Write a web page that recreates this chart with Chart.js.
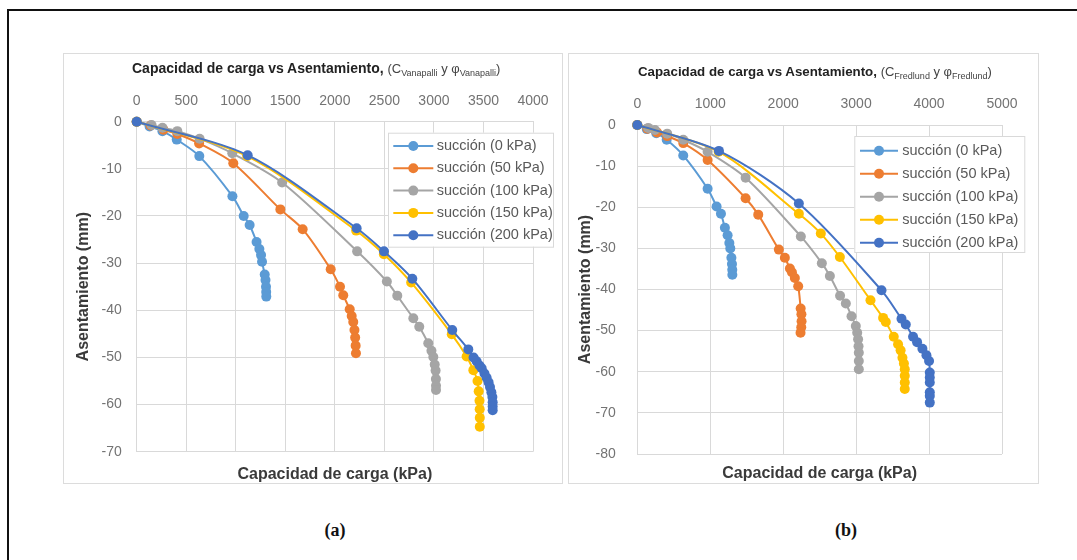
<!DOCTYPE html>
<html>
<head>
<meta charset="utf-8">
<script src="https://cdn.jsdelivr.net/npm/chart.js@4.4.1/dist/chart.umd.min.js"></script>
<style>
body { margin: 0; background: #fff; width: 1077px; height: 560px; overflow: hidden; position: relative; font-family: "Liberation Sans", Arial, sans-serif; }
.frame { position: absolute; left: 7px; top: 9px; width: 1200px; height: 700px; border-left: 2px solid #111; border-top: 2px solid #111; }
.panel { position: absolute; border: 1px solid #dcdcdc; box-sizing: border-box; }
canvas { position: absolute; }
.ttl { position: absolute; white-space: nowrap; color: #222; line-height: 20px; }
.ttl span { font-weight: normal; color: #444; font-size: 13px; }
.ttl sub { font-size: 9px; vertical-align: -3px; line-height: 0; }
.cap { position: absolute; width: 60px; text-align: center; font-family: "Liberation Serif", "DejaVu Serif", serif; font-weight: bold; font-size: 18px; line-height: 22px; color: #111; }
</style>
</head>
<body>
<div class="frame"></div>

<div class="panel" style="left:63px;top:53px;width:500px;height:431px"></div>
<div class="panel" style="left:568px;top:53px;width:471px;height:431px"></div>

<canvas id="chartA" width="500" height="431" style="left:63px;top:53px"></canvas>
<canvas id="chartB" width="471" height="431" style="left:568px;top:53px"></canvas>

<div class="ttl" style="left:132px;top:58px;font-size:14px"><b>Capacidad de carga vs Asentamiento,</b> <span>(C<sub>Vanapalli</sub> y φ<sub>Vanapalli</sub>)</span></div>
<div class="ttl" style="left:638px;top:62px;font-size:13.3px"><b>Capacidad de carga vs Asentamiento,</b> <span>(C<sub>Fredlund</sub> y φ<sub>Fredlund</sub>)</span></div>

<div class="cap" style="left:305px;top:519px">(a)</div>
<div class="cap" style="left:816px;top:519px">(b)</div>

<script>
// series names
const seriesLabels = ['succión (0 kPa)', 'succión (50 kPa)', 'succión (100 kPa)', 'succión (150 kPa)', 'succión (200 kPa)'];
const seriesColors = ['#5b9bd5', '#ed7d31', '#a5a5a5', '#ffc000', '#4472c4'];

// (a) Vanapalli : [capacidad kPa, asentamiento mm]
const van0 = [[0,0],[130,-1.0],[260,-2.0],[404,-3.8],[632,-7.3],[966,-15.8],[1080,-20.0],[1140,-21.9],[1210,-25.5],[1238,-27.0],[1255,-28.3],[1265,-29.7],[1292,-32.4],[1300,-33.6],[1305,-35.0],[1307,-36.1],[1308,-37.1]];
const van50 = [[0,0],[140,-0.8],[270,-1.7],[410,-2.6],[630,-4.6],[975,-8.8],[1450,-18.6],[1675,-22.8],[1958,-31.3],[2052,-35.0],[2085,-36.8],[2150,-39.8],[2170,-41.2],[2186,-42.5],[2198,-44.2],[2205,-45.8],[2210,-47.5],[2213,-49.1]];
const van100 = [[0,0],[150,-0.7],[260,-1.3],[410,-2.0],[635,-3.6],[965,-6.7],[1468,-12.9],[2225,-27.5],[2525,-33.9],[2630,-36.9],[2792,-41.7],[2852,-43.5],[2943,-47.0],[2975,-48.6],[2994,-49.9],[3008,-51.5],[3017,-52.8],[3020,-54.6],[3021,-56.0],[3021,-56.9]];
const van150 = [[0,0],[1115,-7.3],[2215,-23.1],[2495,-28.1],[2770,-34.1],[3180,-45.1],[3330,-49.8],[3398,-52.7],[3440,-55.0],[3452,-57.2],[3460,-59.2],[3462,-61.0],[3463,-62.8],[3463,-64.7]];
const van200 = [[0,0],[1120,-7.1],[2220,-22.6],[2496,-27.5],[2782,-33.3],[3185,-44.2],[3347,-48.3],[3400,-50.0],[3431,-50.8],[3460,-51.7],[3482,-52.3],[3510,-53.4],[3532,-54.3],[3552,-55.3],[3566,-56.3],[3580,-57.4],[3590,-58.4],[3593,-59.5],[3593,-60.4],[3593,-61.2]];

// (b) Fredlund
const fre0 = [[0,0],[130,-1.0],[260,-2.0],[403,-3.6],[630,-7.4],[964,-15.5],[1087,-19.8],[1147,-21.6],[1201,-25.0],[1238,-26.8],[1262,-28.7],[1275,-30.0],[1290,-32.3],[1298,-33.8],[1302,-35.2],[1303,-36.4]];
const fre50 = [[0,0],[140,-0.9],[270,-1.8],[410,-2.7],[630,-4.4],[964,-8.5],[1485,-17.8],[1658,-21.8],[1941,-30.3],[2023,-32.3],[2092,-34.9],[2120,-35.8],[2160,-37.2],[2206,-39.2],[2240,-44.6],[2250,-46.0],[2252,-47.7],[2248,-49.2],[2238,-50.5]];
const fre100 = [[0,0],[150,-0.7],[242,-1.2],[410,-2.1],[630,-3.6],[964,-6.5],[1485,-12.8],[2242,-27.1],[2530,-33.6],[2640,-36.7],[2780,-41.5],[2859,-43.4],[2937,-46.5],[2996,-48.9],[3015,-50.5],[3027,-52.1],[3033,-53.8],[3037,-55.4],[3037,-57.4],[3037,-59.4]];
const fre150 = [[0,0],[1115,-6.5],[2215,-21.6],[2516,-26.4],[2777,-32.1],[3197,-42.6],[3370,-46.9],[3407,-47.9],[3516,-51.5],[3575,-53.3],[3610,-54.8],[3635,-56.6],[3655,-58.0],[3667,-59.4],[3667,-61.0],[3667,-62.6],[3667,-64.2]];
const fre200 = [[0,0],[1119,-6.3],[2215,-19.1],[3348,-40.2],[3622,-47.1],[3681,-48.5],[3781,-51.5],[3836,-52.8],[3909,-54.4],[3964,-56.0],[4000,-57.4],[4010,-60.2],[4010,-61.4],[4010,-62.6],[4010,-65.0],[4010,-65.9],[4010,-67.5]];

const xTitle = 'Capacidad de carga (kPa)';
const yTitle = 'Asentamiento (mm)';

const FONT = '"Liberation Sans", Arial, sans-serif';

// legend drawn as a boxed overlay inside the plot, like the excel one
const boxLegend = {
    id: 'boxLegend',
    afterDatasetsDraw(chart, args, o) {
        const ctx = chart.ctx;
        ctx.save();
        ctx.fillStyle = '#fff';
        ctx.fillRect(o.x, o.y, o.w, o.h);
        ctx.strokeStyle = '#d9d9d9';
        ctx.lineWidth = 1;
        ctx.strokeRect(o.x + 0.5, o.y + 0.5, o.w, o.h);
        ctx.font = '14.5px ' + FONT;
        ctx.textBaseline = 'middle';
        chart.data.datasets.forEach((ds, i) => {
            const y = o.y + o.first + i * o.step;
            const x0 = o.x + o.lineOff;
            ctx.strokeStyle = ds.borderColor;
            ctx.lineWidth = 2;
            ctx.beginPath();
            ctx.moveTo(x0, y);
            ctx.lineTo(x0 + o.lineLen, y);
            ctx.stroke();
            ctx.fillStyle = ds.borderColor;
            ctx.beginPath();
            ctx.arc(x0 + o.lineLen / 2, y, 5, 0, Math.PI * 2);
            ctx.fill();
            ctx.fillStyle = '#595959';
            ctx.fillText(ds.label, o.x + o.textOff, y);
        });
        ctx.restore();
    }
};

function makeChart(id, series, lay) {
    const datasets = series.map((pts, i) => ({
        label: seriesLabels[i],
        data: pts.map(p => ({x: p[0], y: p[1]})),
        xAxisID: 'x',
        yAxisID: 'y',
        showLine: true,
        borderColor: seriesColors[i],
        backgroundColor: seriesColors[i],
        borderWidth: 2,
        pointRadius: 5,
        pointHoverRadius: 5,
        pointBorderWidth: 0,
        tension: 0.3,
        clip: false,
        order: series.length - i
    }));

    new Chart(document.getElementById(id), {
        type: 'scatter',
        data: {datasets: datasets},
        plugins: [boxLegend],
        options: {
            responsive: false,
            animation: false,
            layout: {padding: {top: lay.padTop, right: lay.padRight, bottom: 0, left: 0}},
            plugins: {
                legend: {display: false},
                tooltip: {enabled: false},
                boxLegend: lay.legend
            },
            scales: {
                x: {
                    type: 'linear',
                    position: 'top',
                    min: 0,
                    max: lay.xMax,
                    afterFit: (s) => { s.height = 30; },
                    grid: {color: '#d9d9d9', drawTicks: false},
                    border: {color: '#d9d9d9'},
                    ticks: {
                        stepSize: lay.xStep,
                        padding: lay.xTickPad,
                        color: '#737373',
                        font: {family: FONT, size: 14},
                        callback: (v) => String(v)
                    }
                },
                x2: {
                    type: 'linear',
                    position: 'bottom',
                    min: 0,
                    max: 1,
                    afterFit: (s) => { s.height = lay.x2H; },
                    grid: {display: false},
                    border: {display: false},
                    ticks: {display: false},
                    title: {
                        display: true,
                        text: xTitle,
                        color: '#3a3a3a',
                        padding: {top: 1.1, bottom: 0},
                        font: {family: FONT, size: 16, weight: 'bold'}
                    }
                },
                y: {
                    type: 'linear',
                    position: 'left',
                    min: lay.yMin,
                    max: 0,
                    afterFit: (s) => { s.width = lay.yWidth; },
                    grid: {color: '#d9d9d9', drawTicks: false},
                    border: {color: '#d9d9d9'},
                    ticks: {
                        stepSize: 10,
                        padding: lay.yTickPad,
                        color: '#737373',
                        font: {family: FONT, size: 14},
                        callback: (v) => String(v)
                    },
                    title: {
                        display: true,
                        text: yTitle,
                        color: '#3a3a3a',
                        padding: {top: lay.yTitlePad, bottom: 0},
                        font: {family: FONT, size: 16, weight: 'bold'}
                    }
                }
            }
        }
    });
}

makeChart('chartA', [van0, van50, van100, van150, van200], {
    xMax: 4000, xStep: 500, yMin: -70,
    padTop: 38.7, padRight: 30, yWidth: 73.7, x2H: 32.3,
    xTickPad: 12, yTickPad: 15, yTitlePad: 11.2,
    legend: {x: 325, y: 79.7, w: 165, h: 114, first: 13.3, step: 22.3, lineOff: 5.3, lineLen: 40, textOff: 48.7}
});

makeChart('chartB', [fre0, fre50, fre100, fre150, fre200], {
    xMax: 5000, xStep: 1000, yMin: -80,
    padTop: 42, padRight: 37, yWidth: 69.3, x2H: 29,
    xTickPad: 12.3, yTickPad: 21.6, yTitlePad: 8.1,
    legend: {x: 286.3, y: 83, w: 170, h: 116, first: 14.7, step: 23, lineOff: 5.7, lineLen: 38, textOff: 48}
});
</script>
</body>
</html>
